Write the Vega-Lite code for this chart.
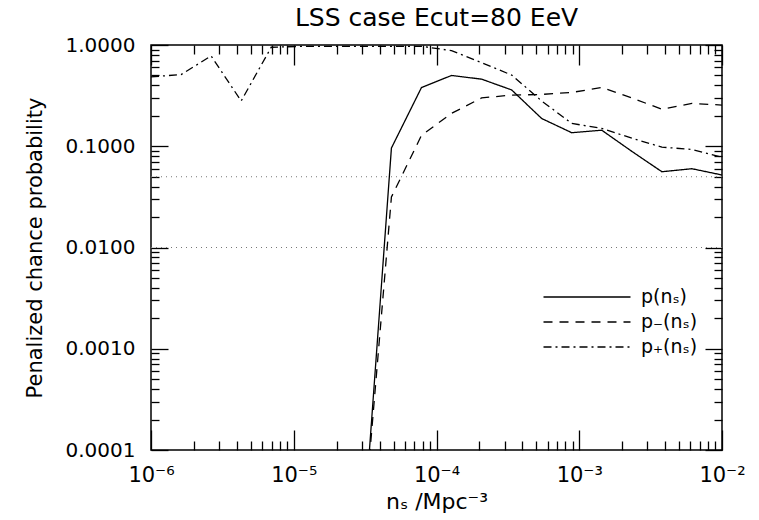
{
  "$schema": "https://vega.github.io/schema/vega-lite/v6.json",
  "autosize": "none",
  "padding": {"left": 151, "top": 45, "right": 37, "bottom": 70},
  "width": 571,
  "height": 405,
  "background": "white",
  "config": {
    "view": {"stroke": "black", "strokeWidth": 1.5},
    "font": "DejaVu Sans",
    "axis": {"grid": false, "domain": false, "ticks": true, "tickColor": "black", "tickOpacity": 1, "labelColor": "black", "titleColor": "black", "labelFontSize": 20, "titleFontSize": 21, "titleFontWeight": "normal", "tickWidth": 1.3}
  },
  "title": {"text": "LSS case Ecut=80 EeV", "fontSize": 25, "fontWeight": "normal", "offset": 4, "anchor": "middle", "color": "black"},
  "datasets": {
    "series": [
      {"x": 2.976e-5, "y": 8e-6, "s": "p(nₛ)"},
      {"x": 4.833e-5, "y": 0.096, "s": "p(nₛ)"},
      {"x": 7.848e-5, "y": 0.38, "s": "p(nₛ)"},
      {"x": 1.274e-4, "y": 0.50, "s": "p(nₛ)"},
      {"x": 2.069e-4, "y": 0.46, "s": "p(nₛ)"},
      {"x": 3.360e-4, "y": 0.36, "s": "p(nₛ)"},
      {"x": 5.456e-4, "y": 0.188, "s": "p(nₛ)"},
      {"x": 8.859e-4, "y": 0.136, "s": "p(nₛ)"},
      {"x": 1.438e-3, "y": 0.144, "s": "p(nₛ)"},
      {"x": 2.336e-3, "y": 0.089, "s": "p(nₛ)"},
      {"x": 3.793e-3, "y": 0.056, "s": "p(nₛ)"},
      {"x": 6.158e-3, "y": 0.060, "s": "p(nₛ)"},
      {"x": 1e-2, "y": 0.052, "s": "p(nₛ)"},
      {"x": 2.976e-5, "y": 9.5e-6, "s": "p₋(nₛ)"},
      {"x": 4.833e-5, "y": 0.0315, "s": "p₋(nₛ)"},
      {"x": 7.848e-5, "y": 0.128, "s": "p₋(nₛ)"},
      {"x": 1.274e-4, "y": 0.211, "s": "p₋(nₛ)"},
      {"x": 2.069e-4, "y": 0.30, "s": "p₋(nₛ)"},
      {"x": 3.360e-4, "y": 0.32, "s": "p₋(nₛ)"},
      {"x": 5.456e-4, "y": 0.325, "s": "p₋(nₛ)"},
      {"x": 8.859e-4, "y": 0.34, "s": "p₋(nₛ)"},
      {"x": 1.438e-3, "y": 0.38, "s": "p₋(nₛ)"},
      {"x": 2.336e-3, "y": 0.30, "s": "p₋(nₛ)"},
      {"x": 3.793e-3, "y": 0.232, "s": "p₋(nₛ)"},
      {"x": 6.158e-3, "y": 0.265, "s": "p₋(nₛ)"},
      {"x": 1e-2, "y": 0.255, "s": "p₋(nₛ)"},
      {"x": 1e-6, "y": 0.485, "s": "p₊(nₛ)"},
      {"x": 1.624e-6, "y": 0.51, "s": "p₊(nₛ)"},
      {"x": 2.637e-6, "y": 0.78, "s": "p₊(nₛ)"},
      {"x": 4.281e-6, "y": 0.28, "s": "p₊(nₛ)"},
      {"x": 6.952e-6, "y": 0.95, "s": "p₊(nₛ)"},
      {"x": 1.129e-5, "y": 0.97, "s": "p₊(nₛ)"},
      {"x": 1.833e-5, "y": 0.97, "s": "p₊(nₛ)"},
      {"x": 2.976e-5, "y": 0.97, "s": "p₊(nₛ)"},
      {"x": 4.833e-5, "y": 0.97, "s": "p₊(nₛ)"},
      {"x": 7.848e-5, "y": 0.97, "s": "p₊(nₛ)"},
      {"x": 1.274e-4, "y": 0.88, "s": "p₊(nₛ)"},
      {"x": 2.069e-4, "y": 0.67, "s": "p₊(nₛ)"},
      {"x": 3.360e-4, "y": 0.505, "s": "p₊(nₛ)"},
      {"x": 5.456e-4, "y": 0.28, "s": "p₊(nₛ)"},
      {"x": 8.859e-4, "y": 0.168, "s": "p₊(nₛ)"},
      {"x": 1.438e-3, "y": 0.150, "s": "p₊(nₛ)"},
      {"x": 2.336e-3, "y": 0.12, "s": "p₊(nₛ)"},
      {"x": 3.793e-3, "y": 0.098, "s": "p₊(nₛ)"},
      {"x": 6.158e-3, "y": 0.093, "s": "p₊(nₛ)"},
      {"x": 1e-2, "y": 0.078, "s": "p₊(nₛ)"}
    ],
    "hlines": [{"y": 0.05}, {"y": 0.01}]
  },
  "layer": [
    {
      "data": {"name": "hlines"},
      "mark": {"type": "rule", "color": "#777777", "strokeDash": [1, 4], "strokeWidth": 1.2},
      "encoding": {
        "y": {"field": "y", "type": "quantitative", "scale": {"type": "log", "domain": [0.0001, 1]}, "axis": null}
      }
    },
    {
      "data": {"name": "series"},
      "mark": {"type": "line", "color": "black", "strokeWidth": 1.3, "clip": true},
      "encoding": {
        "x": {"field": "x", "type": "quantitative", "scale": {"type": "log", "domain": [1e-6, 0.01]},
          "axis": {"orient": "bottom", "values": [1e-6, 1e-5, 1e-4, 1e-3, 1e-2], "offset": -20, "tickSize": 20, "labelPadding": 14,
            "labelExpr": "'10' + (datum.value < 5e-6 ? '⁻⁶' : datum.value < 5e-5 ? '⁻⁵' : datum.value < 5e-4 ? '⁻⁴' : datum.value < 5e-3 ? '⁻³' : '⁻²')",
            "labelFlush": false, "labelFontSize": 21, "title": "nₛ /Mpc⁻³", "titleFontSize": 22, "titlePadding": 6}},
        "y": {"field": "y", "type": "quantitative", "scale": {"type": "log", "domain": [0.0001, 1]},
          "axis": {"orient": "left", "values": [0.0001, 0.001, 0.01, 0.1, 1], "format": ".4f", "offset": -17, "tickSize": 17, "labelPadding": 16,
            "labelFlush": false, "title": "Penalized chance probability", "titleFontSize": 21, "titlePadding": 20}},
        "strokeDash": {"field": "s", "type": "nominal",
          "scale": {"domain": ["p(nₛ)", "p₋(nₛ)", "p₊(nₛ)"], "range": [[1, 0], [9, 7], [8, 4, 2, 4]]},
          "legend": {"orient": "none", "legendX": 425, "legendY": 241, "title": null, "symbolType": "M-4.35,0H4.35", "symbolSize": 400,
            "symbolStrokeWidth": 1.5, "symbolStrokeColor": "black", "symbolFillColor": "transparent", "labelFontSize": 19, "labelColor": "black", "rowPadding": 4, "labelOffset": 43}}
      }
    },
    {
      "data": {"name": "series"},
      "mark": {"type": "point", "opacity": 0},
      "encoding": {
        "x": {"field": "x", "type": "quantitative", "scale": {"type": "log", "domain": [1e-6, 0.01]},
          "axis": {"orient": "bottom", "values": [2e-6, 3e-6, 4e-6, 5e-6, 6e-6, 7e-6, 8e-6, 9e-6, 2e-5, 3e-5, 4e-5, 5e-5, 6e-5, 7e-5, 8e-5, 9e-5, 0.0002, 0.0003, 0.0004, 0.0005, 0.0006, 0.0007, 0.0008, 0.0009, 0.002, 0.003, 0.004, 0.005, 0.006, 0.007, 0.008, 0.009], "offset": -9, "tickSize": 9, "labels": false, "title": null}},
        "y": {"field": "y", "type": "quantitative", "scale": {"type": "log", "domain": [0.0001, 1]},
          "axis": {"orient": "left", "values": [0.0002, 0.0003, 0.0004, 0.0005, 0.0006, 0.0007, 0.0008, 0.0009, 0.002, 0.003, 0.004, 0.005, 0.006, 0.007, 0.008, 0.009, 0.02, 0.03, 0.04, 0.05, 0.06, 0.07, 0.08, 0.09, 0.2, 0.3, 0.4, 0.5, 0.6, 0.7, 0.8, 0.9], "offset": -8, "tickSize": 8, "labels": false, "title": null}}
      }
    },
    {
      "data": {"name": "series"},
      "mark": {"type": "point", "opacity": 0},
      "encoding": {
        "x": {"field": "x", "type": "quantitative", "scale": {"type": "log", "domain": [1e-6, 0.01]},
          "axis": {"orient": "top", "values": [1e-6, 1e-5, 1e-4, 1e-3, 1e-2], "offset": -20, "tickSize": 20, "labels": false, "title": null}},
        "y": {"field": "y", "type": "quantitative", "scale": {"type": "log", "domain": [0.0001, 1]},
          "axis": {"orient": "right", "values": [0.0001, 0.001, 0.01, 0.1, 1], "offset": -17, "tickSize": 17, "labels": false, "title": null}}
      }
    },
    {
      "data": {"name": "series"},
      "mark": {"type": "point", "opacity": 0},
      "encoding": {
        "x": {"field": "x", "type": "quantitative", "scale": {"type": "log", "domain": [1e-6, 0.01]},
          "axis": {"orient": "top", "values": [2e-6, 3e-6, 4e-6, 5e-6, 6e-6, 7e-6, 8e-6, 9e-6, 2e-5, 3e-5, 4e-5, 5e-5, 6e-5, 7e-5, 8e-5, 9e-5, 0.0002, 0.0003, 0.0004, 0.0005, 0.0006, 0.0007, 0.0008, 0.0009, 0.002, 0.003, 0.004, 0.005, 0.006, 0.007, 0.008, 0.009], "offset": -9, "tickSize": 9, "labels": false, "title": null}},
        "y": {"field": "y", "type": "quantitative", "scale": {"type": "log", "domain": [0.0001, 1]},
          "axis": {"orient": "right", "values": [0.0002, 0.0003, 0.0004, 0.0005, 0.0006, 0.0007, 0.0008, 0.0009, 0.002, 0.003, 0.004, 0.005, 0.006, 0.007, 0.008, 0.009, 0.02, 0.03, 0.04, 0.05, 0.06, 0.07, 0.08, 0.09, 0.2, 0.3, 0.4, 0.5, 0.6, 0.7, 0.8, 0.9], "offset": -8, "tickSize": 8, "labels": false, "title": null}}
      }
    }
  ],
  "resolve": {"axis": {"x": "independent", "y": "independent"}}
}
